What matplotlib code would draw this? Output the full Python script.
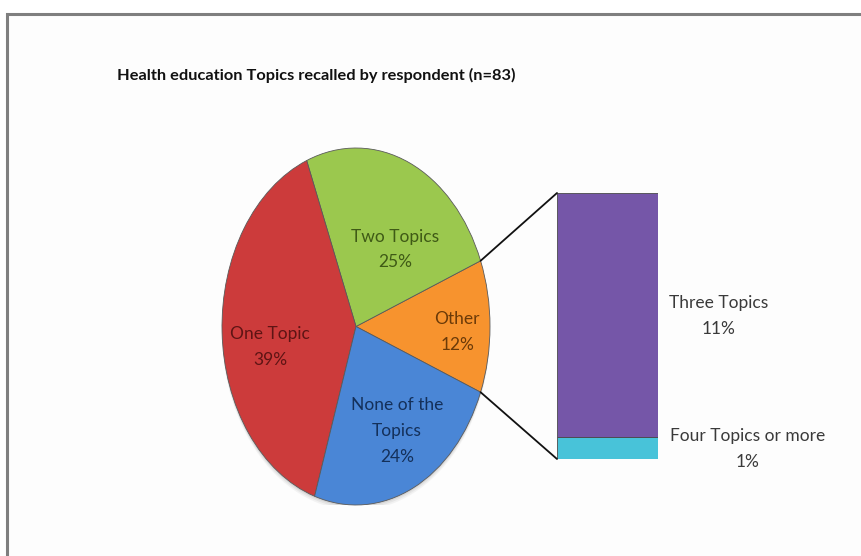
import numpy as np
import matplotlib.pyplot as plt
from matplotlib.patches import Rectangle, Ellipse, ConnectionPatch

plt.rcParams['font.family'] = ['Lato', 'DejaVu Sans']

# pie data (counter-clockwise, starting with the "Other" slice)
pie_labels = ["Other", "Two Topics", "One Topic", "None of the\nTopics"]
pie_values = [12, 25, 39, 24]
pie_colors = ["#F7932E", "#9BC84E", "#CC3B3B", "#4A86D6"]
pie_text_colors = ["#6B3A08", "#3F5A16", "#5E1414", "#14305A"]
# label placement inside each slice: radius and angular nudge (degrees)
label_r = [0.755, 0.52, 0.65, 0.66]
label_shift = [-2.3, -10.6, 8.4, 2.4]

# breakdown of "Other"
bar_labels = ["Four Topics or more", "Three Topics"]
bar_values = [1, 11]
bar_colors = ["#48C3D9", "#7556A8"]

title = "Health education Topics recalled by respondent (n=83)"

W, H = 862, 556
fig = plt.figure(figsize=(W / 100, H / 100), dpi=100)
fig.patch.set_facecolor("white")

# chart frame (cropped at the right and bottom)
fig.patches.append(Rectangle((7 / W, -0.1), 1.2, 1 - 14 / H + 0.1,
                             transform=fig.transFigure, facecolor="#FDFDFD",
                             edgecolor="#7F7F7F", linewidth=2.2, zorder=-5))

fig.text(117 / W, 1 - 75 / H, title, fontsize=11.8, fontweight="bold",
         ha="left", va="center", color="#111111")

# ---- pie (stretched to an ellipse like the original) ----
ax = fig.add_axes([222 / W, 1 - 505 / H, 268 / W, 357 / H])
ax.patch.set_alpha(0)
# soft shadow under the pie
for k, a in [(0.03, 0.08), (0.02, 0.10), (0.01, 0.14)]:
    ax.add_patch(Ellipse((0, -k), 2.0, 2.0, facecolor="#777777", alpha=a,
                         edgecolor="none", zorder=0))
start = -pie_values[0] / sum(pie_values) * 360 / 2
wedges, _ = ax.pie(pie_values, colors=pie_colors, startangle=start,
                   counterclock=True, radius=1,
                   wedgeprops=dict(edgecolor="#5A5A5A", linewidth=0.6,
                                   zorder=2))
ax.set_aspect("auto")
ax.set_xlim(-1, 1)
ax.set_ylim(-1, 1)

total = sum(pie_values)
for w, lab, val, tc, r, sh in zip(wedges, pie_labels, pie_values,
                                  pie_text_colors, label_r, label_shift):
    mid = np.deg2rad((w.theta1 + w.theta2) / 2 + sh)
    ax.text(r * np.cos(mid), r * np.sin(mid), f"{lab}\n{val / total:.0%}",
            ha="center", va="center", fontsize=12.5, color=tc,
            linespacing=1.75, zorder=3)

# ---- bar of pie ----
bax = fig.add_axes([557 / W, 1 - 459 / H, 101 / W, 266 / H])
bax.patch.set_alpha(0)
bottom = 0
for lab, val, col in zip(bar_labels, bar_values, bar_colors):
    bax.bar(0.5, val, width=1, bottom=bottom, color=col,
            edgecolor="#4A4A4A", linewidth=0.6)
    xoff = 1.89 if val < 5 else 1.6
    bax.text(xoff, bottom + val / 2 - 0.05, f"{lab}\n{val / total:.0%}",
             ha="center", va="center", fontsize=12.5, color="#3A3A3A",
             linespacing=1.75)
    bottom += val
bax.set_xlim(0, 1)
bax.set_ylim(0, sum(bar_values))
bax.axis("off")

# connector lines from the "Other" slice to the bar
a1 = np.deg2rad(wedges[0].theta2)
a2 = np.deg2rad(wedges[0].theta1)
for (px, py), by in [((np.cos(a1), np.sin(a1)), sum(bar_values)),
                     ((np.cos(a2), np.sin(a2)), 0)]:
    con = ConnectionPatch(xyA=(px, py), coordsA="data", axesA=ax,
                          xyB=(0, by), coordsB="data", axesB=bax,
                          color="#111111", linewidth=1.3)
    fig.add_artist(con)

fig.savefig("out.png", dpi=100)
